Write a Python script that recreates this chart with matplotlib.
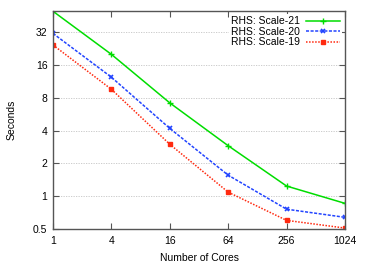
import numpy as np
import matplotlib
matplotlib.use('Agg')
import matplotlib.pyplot as plt

# Data
cores = [1, 4, 16, 64, 256, 1024]
scale21 = [50.0, 20.1, 7.2, 2.91, 1.24, 0.86]
scale20 = [31.3, 12.4, 4.2, 1.56, 0.76, 0.64]
scale19 = [24.5, 9.6, 3.0, 1.09, 0.60, 0.51]
yticks = [0.5, 1, 2, 4, 8, 16, 32]

plt.rcParams['font.family'] = ['Liberation Sans', 'DejaVu Sans']
plt.rcParams['font.size'] = 7.5

fig = plt.figure(figsize=(3.65, 2.67), dpi=100)
ax = fig.add_axes([53 / 365, 1 - 229 / 267, 292 / 365, 218 / 267])

ax.plot(cores, scale21, color='#00dd00', lw=1.1, marker='+', ms=4, mew=1,
        label='RHS: Scale-21')
ax.plot(cores, scale20, color='#2244ff', lw=1.1, ls=(0, (2, 1)), marker='x',
        ms=3.5, mew=1.2, label='RHS: Scale-20')
ax.plot(cores, scale19, color='#ff2a10', lw=1.1, ls=(0, (1, 1)), marker='s',
        ms=2.5, label='RHS: Scale-19')

ax.set_xscale('log', base=2)
ax.set_yscale('log', base=2)
ax.set_xlim(1, 1024)
ax.set_ylim(0.5, 50.3)
ax.set_xticks(cores)
ax.set_xticklabels([str(c) for c in cores])
ax.set_yticks(yticks)
ax.set_yticklabels(['0.5', '1', '2', '4', '8', '16', '32'])
ax.minorticks_off()

ax.yaxis.grid(True, color='#c4c4c4', ls=(0, (1.5, 1.5)), lw=0.6)
ax.set_axisbelow(True)
ax.tick_params(direction='in', top=True, right=True, length=4, width=0.8,
               color='#555555', pad=4)
ax.tick_params(axis='x', pad=5)
for s in ax.spines.values():
    s.set_color('#555555')
    s.set_linewidth(1.0)

ax.set_xlabel('Number of Cores', labelpad=5)
ax.set_ylabel('Seconds', labelpad=12)

leg = ax.legend(loc='upper right', markerfirst=False, frameon=True,
                edgecolor='none', framealpha=1, borderpad=0.2,
                labelspacing=0.05, handlelength=3.2, handletextpad=0.6,
                borderaxespad=0.3, fancybox=False)

plt.savefig('out.png', dpi=100)
